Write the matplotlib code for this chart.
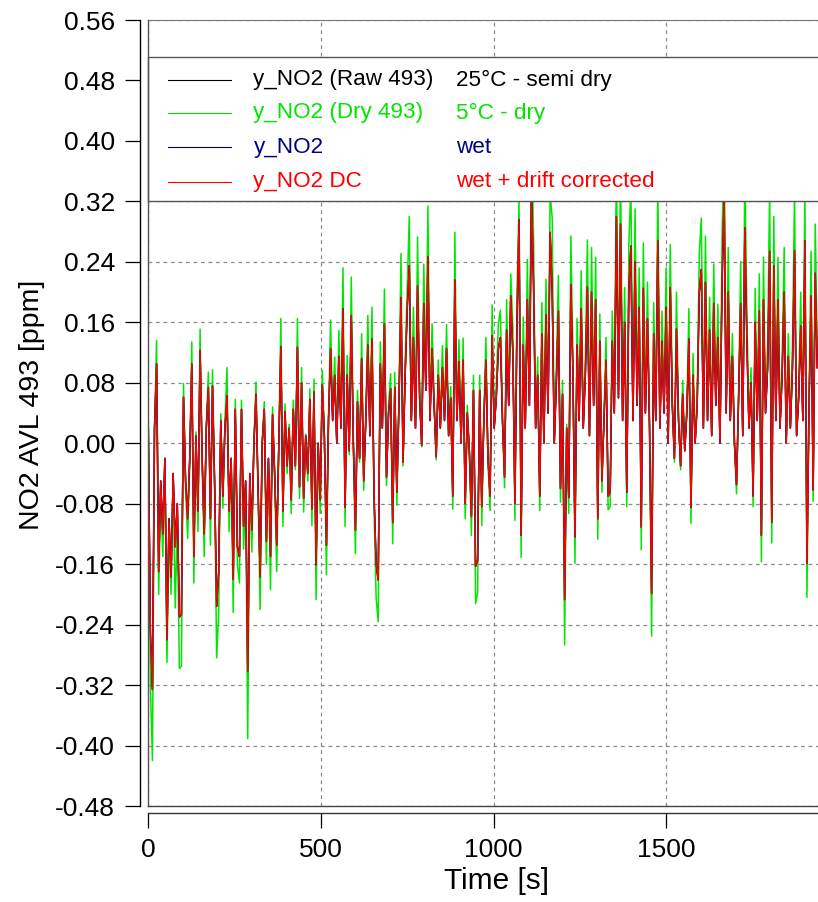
import matplotlib
matplotlib.use("Agg")
import matplotlib.pyplot as plt
from matplotlib.patches import Rectangle
import numpy as np

plt.rcParams['font.family'] = ['Liberation Sans', 'DejaVu Sans']

dt = 6.0  # sample spacing in s

# y_NO2 DC (wet + drift corrected)
y_dc = [
    0.02, -0.25, -0.326, 0.02, 0.105, -0.17, -0.05, -0.12, -0.02, -0.26,
    -0.10, -0.177, -0.04, -0.137, -0.08, -0.23, -0.227, 0.061, -0.05, -0.10,
    -0.02, 0.105, -0.15, 0.01, -0.09, 0.123, -0.02, -0.12, 0.02, 0.074,
    -0.10, 0.076, -0.05, -0.216, -0.17, 0.03, -0.07, 0.02, 0.063, -0.09,
    -0.02, -0.18, 0.045, -0.137, -0.15, 0.045, -0.11, -0.05, -0.302, -0.04,
    -0.115, 0.0, 0.065, -0.06, -0.177, 0.0, 0.045, -0.13, -0.02, -0.15,
    0.038, -0.04, -0.135, 0.0, 0.128, -0.09, 0.042, -0.03, 0.02, -0.075,
    0.045, -0.03, 0.127, -0.058, 0.08, -0.073, 0.01, -0.04, 0.058, -0.087,
    0.068, -0.161, 0.0, -0.075, 0.077, 0.01, -0.135, 0.03, 0.125, 0.03,
    0.09, 0.0, 0.115, 0.02, 0.178, -0.085, 0.09, -0.01, 0.169, 0.0,
    -0.115, 0.055, -0.02, 0.112, -0.05, 0.03, 0.13, 0.01, 0.138, -0.07,
    -0.16, -0.181, 0.105, 0.02, 0.158, -0.045, 0.04, 0.072, -0.105, 0.074,
    -0.065, 0.05, 0.193, -0.025, 0.09, 0.178, 0.235, 0.03, 0.14, 0.02,
    0.208, 0.06, -0.003, 0.185, 0.07, 0.247, 0.03, 0.125, 0.05, -0.018,
    0.09, 0.02, 0.10, 0.03, 0.125, 0.01, 0.06, -0.07, 0.216, 0.03,
    0.108, 0.0, 0.11, -0.08, 0.04, -0.01, -0.097, 0.07, -0.163, -0.155,
    0.07, -0.084, 0.03, 0.11, -0.02, -0.07, 0.142, 0.02, 0.06, 0.125,
    0.14, 0.03, -0.045, 0.15, 0.05, 0.195, 0.12, -0.08, 0.16, 0.296,
    -0.122, 0.13, 0.02, 0.19, 0.05, 0.34, 0.21, 0.02, 0.09, -0.07,
    0.145, 0.0, 0.17, 0.04, 0.279, 0.204, 0.0, 0.08, 0.175, -0.06,
    0.065, -0.207, 0.02, -0.072, 0.21, 0.095, -0.124, 0.13, 0.03, 0.178,
    0.02, 0.09, 0.207, 0.01, 0.20, 0.05, 0.19, -0.10, 0.135, -0.05,
    0.03, 0.11, -0.07, -0.065, 0.135, 0.04, 0.30, 0.06, 0.29, 0.03,
    0.16, -0.065, 0.205, 0.261, 0.03, 0.24, 0.05, 0.18, -0.111, 0.205,
    0.04, 0.165, 0.02, -0.199, 0.145, 0.03, 0.268, 0.02, 0.135, 0.04,
    0.18, 0.0, 0.206, 0.05, -0.02, 0.151, 0.03, -0.03, 0.065, -0.01,
    0.04, 0.138, -0.085, 0.09, 0.0, 0.05, 0.20, 0.23, 0.02, 0.213,
    0.03, 0.15, 0.01, 0.185, 0.05, 0.14, 0.0, 0.21, 0.33, 0.04,
    0.20, 0.03, 0.115, 0.0, -0.055, 0.06, 0.185, 0.01, 0.285, 0.135,
    0.02, 0.08, -0.07, 0.16, 0.03, 0.175, -0.122, 0.19, 0.04, 0.10,
    0.254, -0.105, 0.235, 0.03, 0.19, 0.02, 0.09, 0.20, 0.0, 0.115,
    0.02, 0.10, 0.255, 0.01, 0.06, 0.155, 0.03, 0.268, -0.159, 0.05,
    0.195, -0.062, 0.225, 0.10,
]

# y_NO2 (Dry 493), 5°C - dry
y_dry = [
    0.03, -0.32, -0.42, 0.02, 0.136, -0.20, -0.06, -0.15, -0.03, -0.29,
    -0.12, -0.20, -0.05, -0.218, -0.10, -0.298, -0.295, 0.079, -0.06, -0.126,
    -0.03, 0.134, -0.185, 0.015, -0.117, 0.151, -0.03, -0.15, 0.025, 0.094,
    -0.135, 0.097, -0.06, -0.284, -0.223, 0.039, -0.086, 0.03, 0.10, -0.117,
    -0.02, -0.224, 0.058, -0.16, -0.185, 0.057, -0.14, -0.06, -0.391, -0.05,
    -0.144, 0.0, 0.081, -0.07, -0.22, 0.0, 0.055, -0.16, -0.025, -0.194,
    0.048, -0.05, -0.17, 0.0, 0.165, -0.11, 0.052, -0.04, 0.025, -0.093,
    0.057, -0.035, 0.165, -0.073, 0.10, -0.091, 0.012, -0.05, 0.072, -0.109,
    0.085, -0.207, 0.0, -0.093, 0.096, 0.01, -0.174, 0.035, 0.163, 0.04,
    0.114, 0.0, 0.149, 0.025, 0.232, -0.11, 0.116, -0.015, 0.22, 0.0,
    -0.146, 0.07, -0.025, 0.145, -0.062, 0.035, 0.169, 0.01, 0.18, -0.089,
    -0.205, -0.236, 0.134, 0.025, 0.204, -0.056, 0.05, 0.092, -0.133, 0.094,
    -0.082, 0.06, 0.251, -0.03, 0.11, 0.207, 0.30, 0.035, 0.18, 0.025,
    0.273, 0.07, -0.005, 0.237, 0.085, 0.314, 0.035, 0.158, 0.06, -0.022,
    0.11, 0.025, 0.129, 0.035, 0.157, 0.01, 0.075, -0.087, 0.279, 0.035,
    0.137, 0.0, 0.139, -0.10, 0.05, -0.01, -0.122, 0.09, -0.212, -0.198,
    0.09, -0.109, 0.035, 0.14, -0.025, -0.089, 0.183, 0.025, 0.075, 0.158,
    0.176, 0.035, -0.059, 0.19, 0.06, 0.224, 0.154, -0.102, 0.20, 0.32,
    -0.151, 0.167, 0.025, 0.243, 0.06, 0.43, 0.27, 0.025, 0.114, -0.089,
    0.186, 0.0, 0.217, 0.05, 0.33, 0.298, 0.0, 0.10, 0.222, -0.078,
    0.083, -0.267, 0.025, -0.093, 0.274, 0.121, -0.159, 0.165, 0.035, 0.228,
    0.025, 0.11, 0.269, 0.01, 0.259, 0.06, 0.246, -0.127, 0.171, -0.065,
    0.035, 0.14, -0.088, -0.084, 0.175, 0.05, 0.38, 0.07, 0.37, 0.035,
    0.206, -0.084, 0.263, 0.34, 0.035, 0.31, 0.06, 0.232, -0.141, 0.265,
    0.05, 0.213, 0.025, -0.255, 0.186, 0.035, 0.345, 0.025, 0.175, 0.05,
    0.232, 0.0, 0.263, 0.06, -0.025, 0.20, 0.035, -0.035, 0.083, -0.01,
    0.05, 0.178, -0.106, 0.119, 0.0, 0.06, 0.25, 0.298, 0.025, 0.274,
    0.035, 0.193, 0.01, 0.237, 0.06, 0.184, 0.0, 0.269, 0.42, 0.05,
    0.259, 0.035, 0.145, 0.0, -0.067, 0.07, 0.24, 0.01, 0.36, 0.175,
    0.025, 0.10, -0.084, 0.205, 0.035, 0.224, -0.157, 0.246, 0.05, 0.13,
    0.34, -0.132, 0.30, 0.035, 0.246, 0.025, 0.11, 0.259, 0.0, 0.145,
    0.025, 0.13, 0.33, 0.01, 0.075, 0.20, 0.035, 0.34, -0.204, 0.06,
    0.254, -0.077, 0.29, 0.12,
]

# raw and wet traces sit underneath the red one, can't tell them apart
y_raw = list(y_dc)
y_wet = list(y_dc)

t = np.arange(len(y_dc)) * dt

y_ticks = [-0.48, -0.40, -0.32, -0.24, -0.16, -0.08, 0.00, 0.08, 0.16, 0.24, 0.32, 0.40, 0.48, 0.56]
x_ticks = [0, 500, 1000, 1500]

names = ["y_NO2 (Raw 493)", "y_NO2 (Dry 493)", "y_NO2", "y_NO2 DC"]
notes = ["25°C - semi dry", "5°C - dry", "wet", "wet + drift corrected"]
colors = ["#000000", "#00e600", "#000080", "#ff0000"]


fig = plt.figure(figsize=(8.18, 9.02), dpi=100)
W, H = 818, 902
ax = fig.add_axes([148.3 / W, 96 / H, (W - 148.3) / W, 786 / H])

ax.plot(t, y_raw, color=colors[0], lw=1.1, zorder=2)
ax.plot(t, y_dry, color=colors[1], lw=1.1, zorder=2)
ax.plot(t, y_wet, color=colors[2], lw=1.0, zorder=2)
ax.plot(t, y_dc, color=colors[3], lw=1.0, zorder=2)

ax.set_xlim(0, 1940)
ax.set_ylim(-0.48, 0.56)
ax.set_yticks(y_ticks)
ax.set_yticklabels(["%.2f" % v for v in y_ticks])
ax.set_xticks(x_ticks)

ax.grid(True, ls=(0, (3, 3)), color="#8a8a8a", lw=0.9, zorder=1)

# Igor style: axes pulled away from the plot frame
ax.spines["left"].set_position(("outward", 5.8))
ax.spines["bottom"].set_position(("outward", 5.0))
ax.spines["right"].set_visible(False)
ax.spines["top"].set_color("#777777")
ax.spines["left"].set_linewidth(1.0)
ax.spines["bottom"].set_color("#333333")
ax.spines["bottom"].set_linewidth(1.0)
ax.plot([0, 0], [0, 1], transform=ax.transAxes, color="#555555", lw=1.0, clip_on=False, zorder=6)
ax.plot([0, 1], [0, 0], transform=ax.transAxes, color="#444444", lw=1.0, clip_on=False, zorder=6)

ax.tick_params(axis="both", direction="out", length=11, width=0.9, labelsize=19, pad=7)

ax.set_ylabel("NO2 AVL 493 [ppm]", fontsize=20.5)
ax.yaxis.set_label_coords(-0.154, 0.51)
ax.set_xlabel("Time [s]", fontsize=21.5)
ax.xaxis.set_label_coords(0.52, -0.077)

# legend box, drawn by hand over the data
ax.add_patch(Rectangle((0, 0.7697), 1.02, 0.1832, transform=ax.transAxes,
                       facecolor="white", edgecolor="#555555", lw=1.0, zorder=5, clip_on=False))
rows_y = [0.9237, 0.8817, 0.8384, 0.7939]
for i in range(4):
    ax.plot([0.030, 0.124], [rows_y[i], rows_y[i]], transform=ax.transAxes,
            color=colors[i], lw=0.8, zorder=7)
    ax.text(0.157, rows_y[i], names[i], transform=ax.transAxes, color=colors[i],
            fontsize=16.2, va="center", ha="left", zorder=7)
    ax.text(0.46, rows_y[i], notes[i], transform=ax.transAxes, color=colors[i],
            fontsize=16.2, va="center", ha="left", zorder=7)

fig.savefig("out.png", dpi=100)
